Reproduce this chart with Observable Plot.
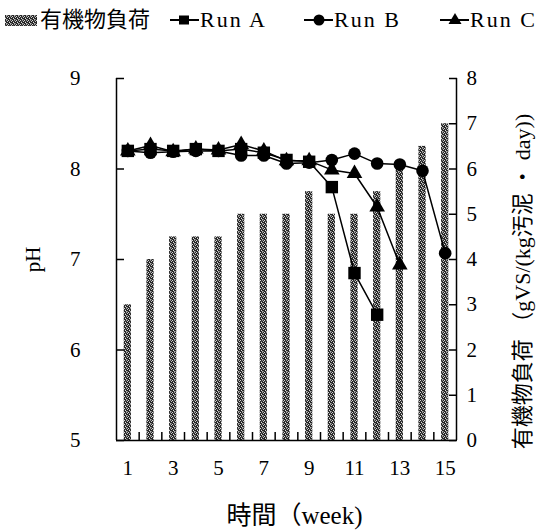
<!DOCTYPE html>
<html><head><meta charset="utf-8">
<script src="https://cdn.jsdelivr.net/npm/d3@7"></script>
<script src="https://cdn.jsdelivr.net/npm/@observablehq/plot@0.6"></script>
<style>
body{margin:0;background:#fff;}
#legend{height:44px;position:relative;font-family:"Liberation Serif","Times New Roman","DejaVu Serif","Noto Sans CJK JP",serif;font-size:22px;color:#000;}
#legend .t{position:absolute;top:6px;line-height:28px;white-space:pre;}
#legend svg{position:absolute;top:0;}
</style></head><body>
<div id="legend"></div>
<div id="chart"></div>
<script>
const weeks = [1,2,3,4,5,6,7,8,9,10,11,12,13,14,15];
const loadValues = [3.0,4.0,4.5,4.5,4.5,5.0,5.0,5.0,5.5,5.0,5.0,5.5,6.0,6.5,7.0];
const runA = [8.20,8.22,8.20,8.22,8.20,8.22,8.18,8.10,8.08,7.80,6.85,6.39];
const runB = [8.20,8.18,8.19,8.20,8.20,8.15,8.15,8.06,8.07,8.10,8.17,8.06,8.05,7.98,7.07];
const runC = [8.20,8.26,8.19,8.22,8.21,8.27,8.20,8.09,8.09,7.99,7.95,7.58,6.94];
const phTicks = [5,6,7,8,9];
const loadTicks = [0,1,2,3,4,5,6,7,8];
const weekTicks = [1,3,5,7,9,11,13,15];
const seriesNames = ["Run A","Run B","Run C"];
const loadName = "有機物負荷";
const yLeftLabel = "pH";
const yRightLabel = "有機物負荷 （gVS/(kg汚泥 ・ day))";
const xLabel = "時間（week)";

const toPh = v => 5 + v/2;
const bars = weeks.map((w,i)=>({week:w, load:loadValues[i]}));
const mk = arr => arr.map((v,i)=>({week:weeks[i], ph:v}));
const A = mk(runA), B = mk(runB), C = mk(runC);
const boundaries = weeks.slice(0,-1).map(w=>w+0.5);

const font = "'Liberation Serif','Times New Roman','DejaVu Serif','Noto Sans CJK JP',serif";

const plot = Plot.plot({
  width: 539, height: 488,
  marginTop: 34, marginBottom: 92, marginLeft: 116, marginRight: 83,
  style: {fontFamily: font, fontSize: "21px", background: "#fff", color: "#000"},
  x: {domain: [0.5, 15.5], axis: null},
  y: {domain: [5, 9], axis: null},
  marks: [
    Plot.rectY(bars, {x1: d=>d.week-0.16, x2: d=>d.week+0.16, y1: 5, y2: d=>toPh(d.load), fill: "url(#stipple)"}),
    Plot.line(A, {x:"week", y:"ph", stroke:"#000", strokeWidth:1.5}),
    Plot.line(B, {x:"week", y:"ph", stroke:"#000", strokeWidth:1.5}),
    Plot.line(C, {x:"week", y:"ph", stroke:"#000", strokeWidth:1.5}),
    Plot.dot(A, {x:"week", y:"ph", symbol:"square", r:7, fill:"#000"}),
    Plot.dot(B, {x:"week", y:"ph", symbol:"circle", r:6.3, fill:"#000"}),
    Plot.dot(C, {x:"week", y:"ph", symbol:"triangle", r:5.8, fill:"#000"}),
    Plot.ruleX([0.5, 15.5], {y1:5, y2:9, stroke:"#000", strokeWidth:1.5}),
    Plot.ruleY([5], {stroke:"#000", strokeWidth:1.5}),
    Plot.axisY(phTicks, {anchor:"left", tickSize:-8, tickPadding:44, fontSize:21, label:null, tickFormat: d => String(d), strokeWidth:1.5}),
    Plot.axisY(loadTicks.map(toPh), {anchor:"right", tickSize:-8, tickPadding:18, fontSize:21, label:null, tickFormat: d => String(Math.round((d-5)*2)), strokeWidth:1.5}),
    Plot.axisX(weekTicks, {anchor:"bottom", tickSize:0, tickPadding:20, fontSize:21, label:null}),
    Plot.axisX(boundaries, {anchor:"bottom", tickSize:-8, tickFormat: ()=>"", label:null, strokeWidth:1.5}),
    Plot.text([yLeftLabel], {text: d=>d, frameAnchor:"left", textAnchor:"middle", lineAnchor:"middle", dx:-83, rotate:-90, fontSize:21}),
    Plot.text([yRightLabel], {text: d=>d, frameAnchor:"right", textAnchor:"middle", lineAnchor:"middle", dx:66, dy:22, rotate:-90, fontSize:22, letterSpacing:"2.5px"}),
    Plot.text([xLabel], {text: d=>d, frameAnchor:"bottom", textAnchor:"middle", lineAnchor:"middle", dx:8, dy:75, fontSize:25})
  ]
});

// stipple pattern for bars
const patternHTML = id => `<pattern id="${id}" width="4" height="4" patternUnits="userSpaceOnUse">
<rect width="4" height="4" fill="#262626"/>
<rect x="0" y="0" width="1" height="1" fill="#d8d8d8"/><rect x="2" y="0" width="1" height="1" fill="#8a8a8a"/>
<rect x="3" y="1" width="1" height="1" fill="#c8c8c8"/><rect x="1" y="1" width="1" height="1" fill="#555"/>
<rect x="1" y="2" width="1" height="1" fill="#e0e0e0"/><rect x="3" y="3" width="1" height="1" fill="#777"/>
<rect x="2" y="3" width="1" height="1" fill="#b8b8b8"/></pattern>`;
const svgns = "http://www.w3.org/2000/svg";
const defs = document.createElementNS(svgns, "defs");
defs.innerHTML = patternHTML("stipple");
plot.insertBefore(defs, plot.firstChild);
document.getElementById("chart").appendChild(plot);

// legend
const lg = document.getElementById("legend");
lg.innerHTML = `
<svg width="36" height="44" style="left:4px"><defs>${patternHTML("stip2")}</defs><rect x="1" y="15" width="32" height="11" fill="url(#stip2)"/></svg>
<span class="t" style="left:40px">${loadName}</span>
<svg width="32" height="44" style="left:169px"><line x1="1" x2="30" y1="20" y2="20" stroke="#000" stroke-width="2"/><rect x="10" y="15.5" width="10" height="9" fill="#000"/></svg>
<span class="t" style="left:200px;letter-spacing:2px">${seriesNames[0]}</span>
<svg width="32" height="44" style="left:303px"><line x1="1" x2="30" y1="20" y2="20" stroke="#000" stroke-width="2"/><circle cx="16" cy="20" r="5.5" fill="#000"/></svg>
<span class="t" style="left:334px;letter-spacing:2px">${seriesNames[1]}</span>
<svg width="32" height="44" style="left:439px"><line x1="1" x2="30" y1="20" y2="20" stroke="#000" stroke-width="2"/><path d="M16,13 L22.5,24 L9.5,24 Z" fill="#000"/></svg>
<span class="t" style="left:470px;letter-spacing:2px">${seriesNames[2]}</span>`;
</script>
</body></html>
